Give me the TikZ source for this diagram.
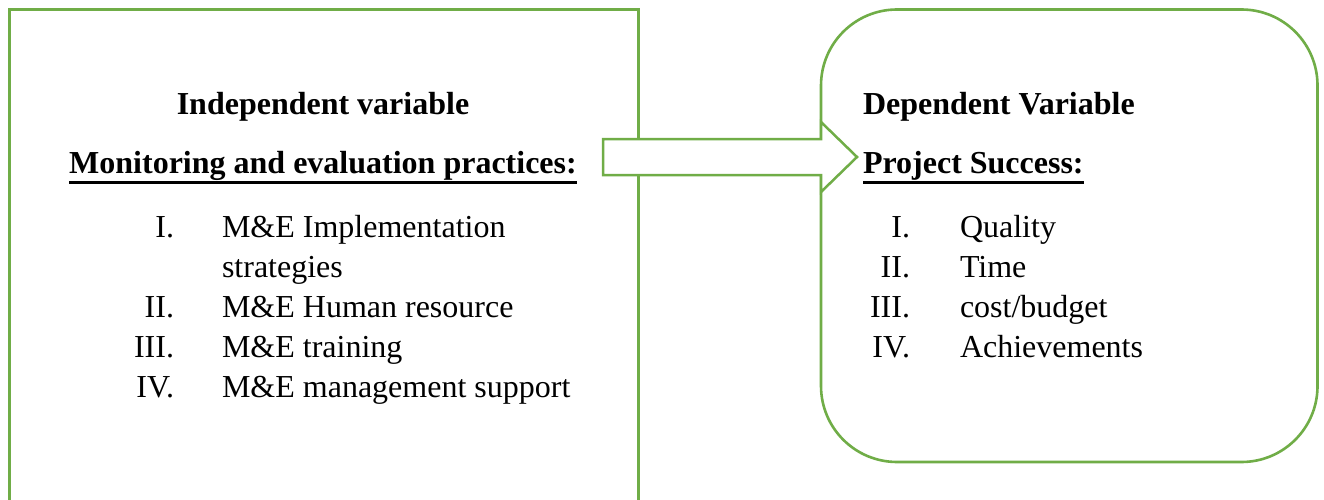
\documentclass[tikz,border=0pt]{standalone}
\usepackage{fontspec}
\setmainfont{Liberation Serif}
\definecolor{boxgreen}{HTML}{70AD47}
\begin{document}
\begin{tikzpicture}[x=1pt,y=-1pt,
  frame/.style={draw=boxgreen,line width=2.8pt},
  txt/.style={inner sep=0pt,outer sep=0pt,font=\fontsize{32}{40}\selectfont},
  head/.style={txt,font=\fontsize{32}{40}\selectfont\bfseries},
  num/.style={txt,anchor=base east},
  item/.style={txt,anchor=base west},
  uline/.style={line width=2.8pt,black}]
\useasboundingbox (0,0) rectangle (1324,500);
\clip (0,0) rectangle (1324,500);
\fill[white] (0,0) rectangle (1324,500);
% boxes
\coordinate (L1) at (9.5,9.5);
\coordinate (L2) at (638.5,530);
\draw[frame] (L1) rectangle (L2);
\coordinate (R1) at (821,9.5);
\coordinate (R2) at (1317.5,462);
\draw[frame,line width=2.6pt,rounded corners=76pt] (R1) rectangle (R2);
% block arrow
\coordinate (a1) at (603,139);
\coordinate (a2) at (821,139);
\coordinate (a3) at (821,122);
\coordinate (tip) at (857,157);
\coordinate (a5) at (821,192);
\coordinate (a6) at (821,175);
\coordinate (a7) at (603,175);
\draw[frame,line width=2.5pt,fill=white,line join=miter] (a1) -- (a2) -- (a3) -- (tip) -- (a5) -- (a6) -- (a7) -- cycle;
% left texts
\node[head,anchor=base] (indep) at (323,115) {Independent variable};
\node[head,anchor=base] (mep) at (323,173) {Monitoring and evaluation practices:};
\draw[uline] ([yshift=-9.5pt]mep.base west) -- ([yshift=-9.5pt]mep.base east);
\node[num] (n1) at (174,237) {I.};
\node[item] (t1) at (222,237) {M\&E Implementation};
\node[item] (t1b) at (222,277) {strategies};
\node[num] (n2) at (174,317) {II.};
\node[item] (t2) at (222,317) {M\&E Human resource};
\node[num] (n3) at (174,357) {III.};
\node[item] (t3) at (222,357) {M\&E training};
\node[num] (n4) at (174,397) {IV.};
\node[item] (t4) at (222,397) {M\&E management support};
% right texts
\node[head,anchor=base west] (dep) at (863,115) {Dependent Variable};
\node[head,anchor=base west] (ps) at (863,173) {Project Success:};
\draw[uline] ([yshift=-9.5pt]ps.base west) -- ([yshift=-9.5pt]ps.base east);
\node[num] (m1) at (910,237) {I.};
\node[item] (q1) at (960,237) {Quality};
\node[num] (m2) at (910,277) {II.};
\node[item] (q2) at (960,277) {Time};
\node[num] (m3) at (910,317) {III.};
\node[item] (q3) at (960,317) {cost/budget};
\node[num] (m4) at (910,357) {IV.};
\node[item] (q4) at (960,357) {Achievements};
\end{tikzpicture}
\end{document}
